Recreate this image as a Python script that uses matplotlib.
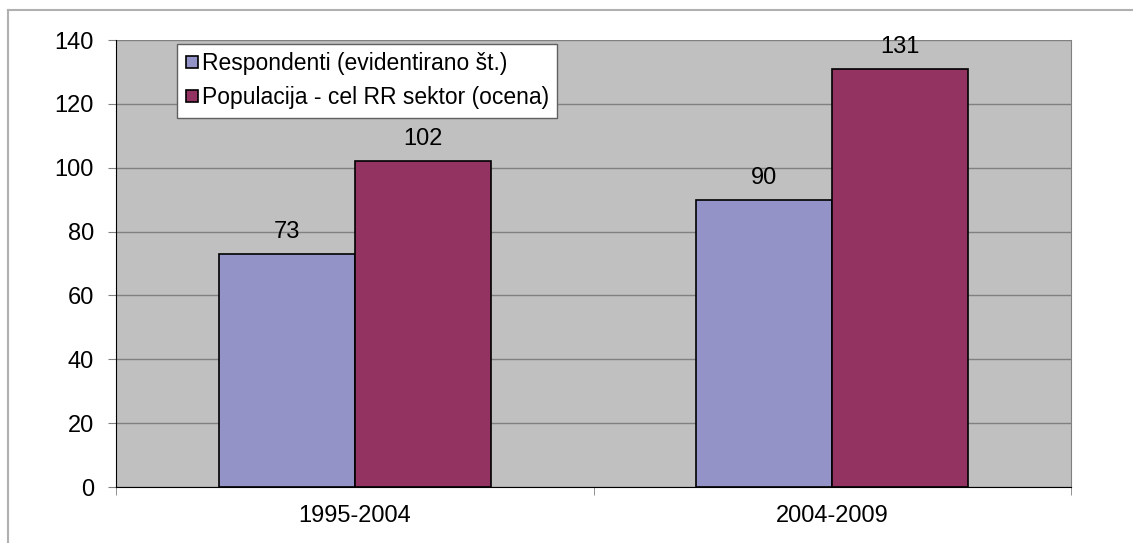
import numpy as np
import matplotlib.pyplot as plt
from matplotlib.lines import Line2D

plt.rcParams['font.family'] = ['Liberation Sans', 'DejaVu Sans']

# Data
periods = ['1995-2004', '2004-2009']
respondenti = [73, 90]
populacija = [102, 131]
labels = ['Respondenti (evidentirano št.)', 'Populacija - cel RR sektor (ocena)']
colors = ['#9393C7', '#933362']

fig = plt.figure(figsize=(11.33, 5.43), dpi=100)
ax = fig.add_axes([116 / 1133, 1 - 487 / 543, (1071 - 116) / 1133, (487 - 40) / 543])

x = np.arange(len(periods))
w = 0.285
b1 = ax.bar(x - w / 2, respondenti, w, color=colors[0], edgecolor='black', lw=1.2, label=labels[0])
b2 = ax.bar(x + w / 2, populacija, w, color=colors[1], edgecolor='black', lw=1.2, label=labels[1])
for bars in (b1, b2):
    ax.bar_label(bars, padding=8, fontsize=17)

ax.set_facecolor('#C0C0C0')
ax.set_xlim(-0.5, 1.5)
ax.set_ylim(0, 140)
ax.set_yticks(np.arange(0, 141, 20))
ax.yaxis.grid(True, color='#808080', lw=1)
ax.set_axisbelow(True)
ax.set_xticks(x)
ax.set_xticklabels(periods)
ax.set_xticks([-0.5, 0.5, 1.5], minor=True)
ax.tick_params(axis='x', which='major', length=0, pad=13, labelsize=17)
ax.tick_params(axis='x', which='minor', length=6, color='#808080')
ax.tick_params(axis='y', length=6, color='#808080', pad=10, labelsize=17)
ax.spines['top'].set_visible(False)
ax.spines['right'].set_color('#808080')
ax.spines['left'].set_color('black')
ax.spines['bottom'].set_color('black')

handles = [Line2D([], [], marker='s', ls='', markersize=9, markerfacecolor=c,
                  markeredgecolor='black', markeredgewidth=1.2) for c in colors]
leg = ax.legend(handles, labels, loc='upper left', bbox_to_anchor=(61 / 955, 1 - 4 / 447),
                fontsize=16.5, frameon=True, fancybox=False, framealpha=1,
                edgecolor='#606060', handlelength=0.6, handletextpad=0.12,
                borderpad=0.35, labelspacing=0.5, borderaxespad=0)
leg.get_frame().set_linewidth(1)

# outer frame lines
fig.add_artist(Line2D([8 / 1133, 8 / 1133], [0, 1 - 10 / 543], color='#B0B0B0', lw=1.5, transform=fig.transFigure))
fig.add_artist(Line2D([8 / 1133, 1], [1 - 10 / 543, 1 - 10 / 543], color='#B0B0B0', lw=1.5, transform=fig.transFigure))

fig.savefig('out.png', dpi=100)
